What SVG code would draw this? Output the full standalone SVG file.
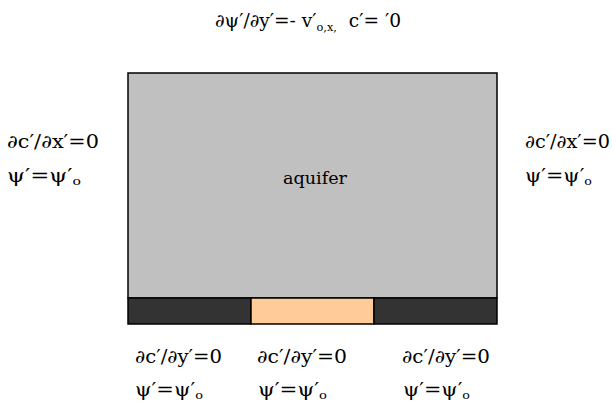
<svg xmlns="http://www.w3.org/2000/svg" width="613" height="414" viewBox="0 0 613 414">
<style>
.t{font-family:"DejaVu Serif","Liberation Serif",serif;font-size:18px;fill:#000}
.sub{font-size:11px}
.dark{fill:#333333;stroke:#000;stroke-width:1.5}
</style>
<rect width="613" height="414" fill="#fff"/>
<g id="aquifer">
<rect x="128" y="73" width="369" height="225" fill="#c0c0c0" stroke="#000" stroke-width="1.5"/>
<text class="t" x="283" y="184" textLength="64" lengthAdjust="spacingAndGlyphs" style="font-size:17px">aquifer</text>
</g>
<g id="bottom-left"><rect class="dark" x="128" y="298" width="123" height="26"/></g>
<g id="bottom-middle"><rect x="251" y="298" width="123" height="26" fill="#ffcc99" stroke="#000" stroke-width="1.5"/></g>
<g id="bottom-right"><rect class="dark" x="374" y="298" width="123" height="26"/></g>
<g id="connectors"/>
<g id="labels">
<text class="t" x="215" y="27" textLength="186" lengthAdjust="spacingAndGlyphs" style="white-space:pre">∂ψ′/∂y′=- v′<tspan class="sub" dy="4">o,x,</tspan><tspan dy="-4">  c′= ′0</tspan></text>
<text class="t" x="7" y="148" textLength="92" lengthAdjust="spacingAndGlyphs">∂c′/∂x′=0</text>
<text class="t" x="7" y="182" textLength="74" lengthAdjust="spacingAndGlyphs">ψ′=ψ′<tspan class="sub" dy="3">o</tspan></text>
<text class="t" x="525" y="148" textLength="85" lengthAdjust="spacingAndGlyphs">∂c′/∂x′=0</text>
<text class="t" x="525" y="182" textLength="67" lengthAdjust="spacingAndGlyphs">ψ′=ψ′<tspan class="sub" dy="3">o</tspan></text>
<text class="t" x="135" y="363" textLength="87" lengthAdjust="spacingAndGlyphs">∂c′/∂y′=0</text>
<text class="t" x="135" y="396" textLength="68" lengthAdjust="spacingAndGlyphs">ψ′=ψ′<tspan class="sub" dy="3">o</tspan></text>
<text class="t" x="257" y="363" textLength="90" lengthAdjust="spacingAndGlyphs">∂c′/∂y′=0</text>
<text class="t" x="258" y="396" textLength="69" lengthAdjust="spacingAndGlyphs">ψ′=ψ′<tspan class="sub" dy="3">o</tspan></text>
<text class="t" x="402" y="363" textLength="88" lengthAdjust="spacingAndGlyphs">∂c′/∂y′=0</text>
<text class="t" x="403" y="396" textLength="67" lengthAdjust="spacingAndGlyphs">ψ′=ψ′<tspan class="sub" dy="3">o</tspan></text>
</g>
</svg>
